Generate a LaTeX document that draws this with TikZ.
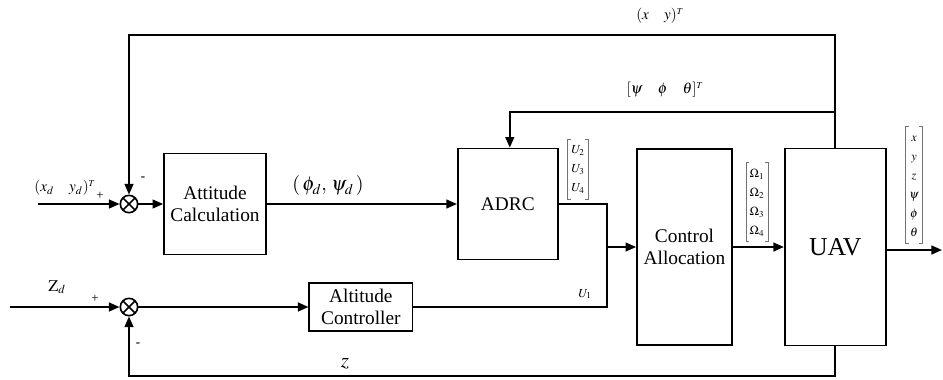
\documentclass[tikz,border=0pt]{standalone}
\usepackage{amsmath}
\usepackage{mathptmx}
\usepackage{fontspec}
\setmainfont{Liberation Serif}
\usetikzlibrary{positioning,arrows.meta}
\newcommand{\colvec}[1]{\renewcommand{\arraystretch}{1.35}\begin{matrix}#1\end{matrix}}

\begin{document}
\begin{tikzpicture}[x=0.03cm, y=-0.03cm,
  block/.style={draw, line width=1.5pt, align=center, font=\fontsize{16.5}{19}\selectfont, inner sep=0pt},
  sumnode/.style={draw, circle, line width=1.4pt, minimum size=0.52cm, inner sep=0pt,
    path picture={\draw[line width=1.4pt] (path picture bounding box.north west) -- (path picture bounding box.south east)
      (path picture bounding box.north east) -- (path picture bounding box.south west);}},
  arrow/.style={-{Triangle[length=9pt,width=7.5pt]}, line width=1.5pt},
  wire/.style={line width=1.5pt},
  brk/.style={draw=black!55, line width=0.6pt},
  lbl/.style={font=\fontsize{13}{15}\selectfont, inner sep=0pt},
  sgn/.style={font=\fontsize{11}{13}\selectfont, inner sep=0pt},
  vec/.style={font=\fontsize{10.5}{12}\selectfont, inner xsep=3pt, inner ysep=1pt}
]
  \useasboundingbox (0,0) rectangle (943,379);

  \node[sumnode] (sumA) at (129,204) {};
  \node[block, right=0.74cm of sumA, minimum width=3.06cm, minimum height=3.03cm] (att) {Attitude\\Calculation};
  \node[block, right=5.7cm of att, minimum width=3cm, minimum height=3.33cm] (adrc) {ADRC};
  \node[sumnode] (sumB) at (129,307) {};
  \node[block, right=5.1cm of sumB, minimum width=3.09cm, minimum height=1.44cm] (alt) {Altitude\\Controller};
  \node[block, minimum width=2.85cm, minimum height=5.88cm] (ca) at (684.5,247) {Control\\Allocation};
  \node[block, right=1.53cm of ca, minimum width=3.03cm, minimum height=5.91cm, font=\fontsize{22}{24}\selectfont] (uav) {UAV};

  \coordinate (inA) at (38,204);
  \coordinate (inB) at (10,307);
  \coordinate (jn) at (607,247);
  \coordinate (out) at (942,250);
  \coordinate (fbtop) at (833,35);
  \coordinate (fbmid) at (833,112);
  \coordinate (fbbot) at (833,376);

  \draw[arrow] (inA) -- (sumA);
  \draw[arrow] (sumA) -- (att);
  \draw[arrow] (att) -- (adrc);
  \draw[wire] (adrc.east) -| (alt.east -| jn) -- (alt.east);
  \draw[arrow] (jn) -- (ca);
  \draw[arrow] (inB) -- (sumB);
  \draw[arrow] (sumB) -- (alt);
  \draw[arrow] (ca) -- (uav);
  \draw[arrow] (uav.east |- out) -- (out);

  \draw[arrow] (uav.north) -- (uav.north |- fbtop) -| (sumA.north);
  \draw[arrow] (uav.north |- fbmid) -| ([xshift=0.06cm]adrc.north);
  \draw[arrow] (uav.south) -- (uav.south |- fbbot) -| (sumB.south);

  \node[lbl] (xyT) at (660,16) {$(x\quad y)^{\scriptscriptstyle T}$};
  \node[lbl] (angT) at (665,90) {$[\psi\quad\phi\quad\theta]^{\scriptscriptstyle T}$};
  \node[lbl] (xdT) at (65,188) {$(x_d\quad y_d)^{\scriptscriptstyle T}$};
  \node[sgn] (plusA) at (100,196) {+};
  \node[sgn] (minA) at (143,179) {\textbf{-}};
  \node[lbl, font=\fontsize{17}{19}\selectfont] (phd) at (328,186) {$(\,\phi_d,\,\psi_d\,)$};
  \node[vec] (uvec) at (578,169) {$\colvec{U_2\\U_3\\U_4}$};
  \node[vec] (ovec) at (757,202) {$\colvec{\Omega_1\\\Omega_2\\\Omega_3\\\Omega_4}$};
  \node[vec] (svec) at (914,185) {$\colvec{x\\y\\z\\\psi\\\phi\\\theta}$};
  \node[vec] (uone) at (585,294) {$U_1$};
  \node[lbl, font=\fontsize{14}{16}\selectfont] (zd) at (57,287) {$\mathrm{Z}_d$};
  \node[sgn] (plusB) at (95,299) {+};
  \node[sgn] (minB) at (138,345) {\textbf{-}};
  \node[lbl, font=\fontsize{18}{20}\selectfont] (zl) at (345,364) {$z$};

  \foreach \v in {uvec,ovec,svec} {
    \draw[brk] ([xshift=3pt]\v.north west) -- (\v.north west) -- (\v.south west) -- ([xshift=3pt]\v.south west);
    \draw[brk] ([xshift=-3pt]\v.north east) -- (\v.north east) -- (\v.south east) -- ([xshift=-3pt]\v.south east);
  }
\end{tikzpicture}
\end{document}
